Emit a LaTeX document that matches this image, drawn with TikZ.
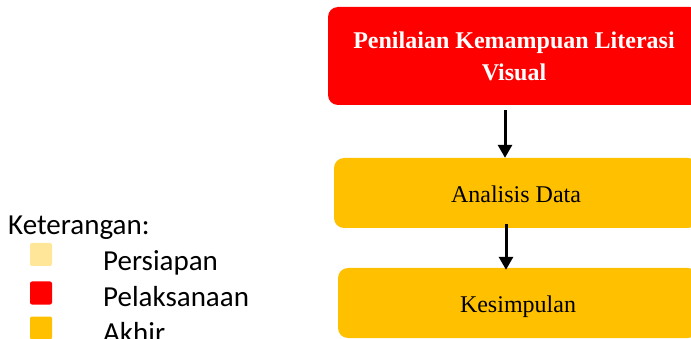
\documentclass[tikz,border=0pt]{standalone}
\usepackage{fontspec}
\setmainfont{Liberation Serif}
\newfontfamily\legendfont{Carlito}
\usetikzlibrary{arrows.meta}
\definecolor{cred}{HTML}{FF0000}
\definecolor{corange}{HTML}{FFC000}
\definecolor{clight}{HTML}{FFE699}
\tikzset{
  stage/.style={rectangle, rounded corners=10pt, inner sep=0pt, align=center},
  plainstage/.style={stage, fill=corange, text height=19pt, text depth=0pt,
      font=\fontsize{24}{32}\selectfont},
  arr/.style={line width=3pt, -{Triangle[length=13pt,width=14pt]}},
  legsq/.style={rectangle, rounded corners=2pt, minimum width=22pt, minimum height=23pt, inner sep=0pt},
  legtxt/.style={anchor=base west, inner sep=0pt, font=\legendfont\fontsize{29}{32}\selectfont},
}
\begin{document}
\begin{tikzpicture}[x=1pt,y=-1pt]
\useasboundingbox (0,0) rectangle (691,339);
\clip (0,0) rectangle (691,339);
\node[stage, fill=cred, minimum width=372pt, minimum height=98pt, text=white,
      font=\bfseries\fontsize{24}{32}\selectfont] (b1) at (514,56)
      {Penilaian Kemampuan Literasi\\Visual};
\node[plainstage, minimum width=364pt, minimum height=70pt] (b2) at (516,193) {Analisis Data};
\node[plainstage, minimum width=360pt, minimum height=70pt] (b3) at (518,303) {Kesimpulan};
\coordinate (a1) at (505,110);
\coordinate (a2) at (506,224);
\draw[arr] (a1) -- (a1 |- b2.north);
\draw[arr] (a2) -- ([yshift=-2pt]a2 |- b3.north);
\node[legtxt] (ket) at (8,235) {Keterangan:};
\node[legsq, fill=clight] (s1) at (41,254.5) {};
\node[legsq, fill=cred] (s2) at (41,293) {};
\node[legsq, fill=corange] (s3) at (41,328) {};
\node[legtxt] (t1) at (103,270) {Persiapan};
\node[legtxt] (t2) at (103,306) {Pelaksanaan};
\node[legtxt] (t3) at (103,342) {Akhir};
\end{tikzpicture}
\end{document}
